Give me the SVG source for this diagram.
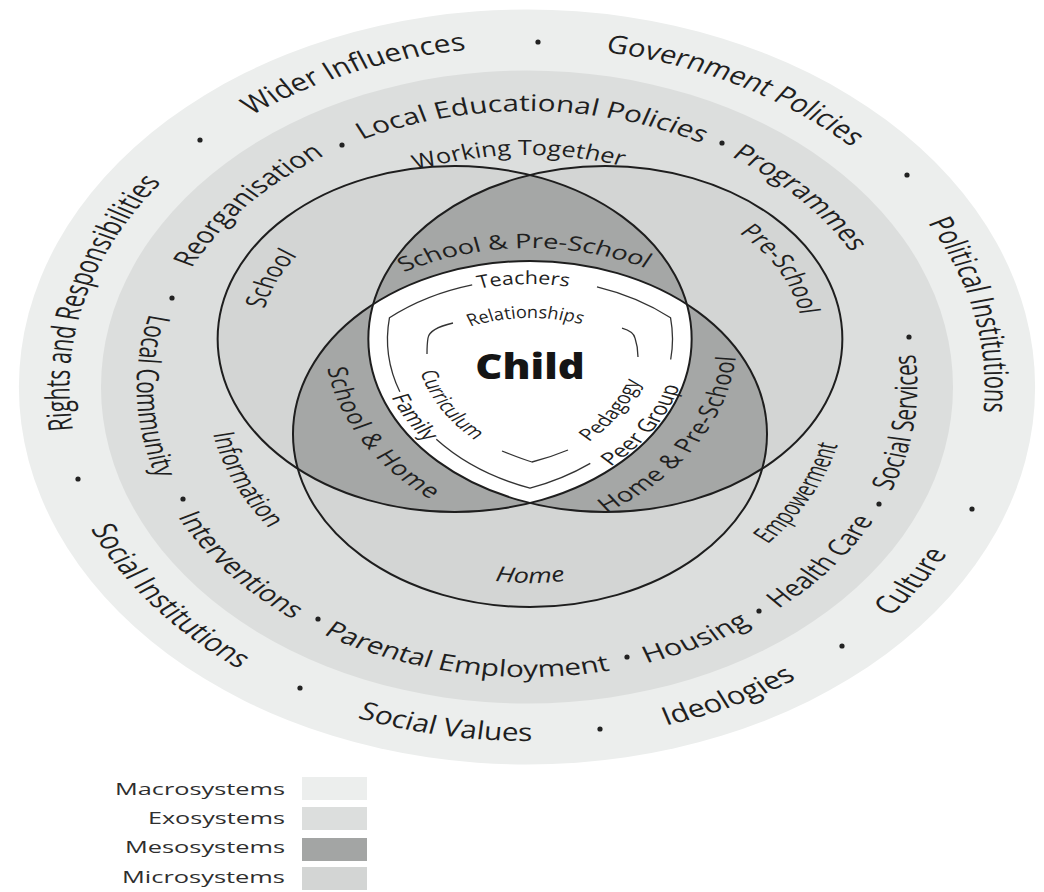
<svg xmlns="http://www.w3.org/2000/svg" width="1044" height="892" viewBox="0 0 1044 892">
<style>
.t{font-family:"Open Sans","Noto Sans","DejaVu Sans",sans-serif;fill:#1f1f1f;text-anchor:middle;font-weight:500}
.mac{font-size:25px}
.exo{font-size:23px}
.exi{font-size:21px}
.exs{font-size:22px}
.mic{font-size:21px}
.mes{font-size:20px}
.inn{font-size:17px}
.child{font-size:35px;font-weight:800;fill:#151515}
.leg{font-size:17px;text-anchor:start;fill:#2e2e2e}
.vc{fill:none;stroke:#1e1e1e;stroke-width:2;vector-effect:non-scaling-stroke}
.br{fill:none;stroke:#333;stroke-width:1.3;vector-effect:non-scaling-stroke}
.br2{fill:none;stroke:#333;stroke-width:1.3}
.dot{fill:#222}
.micro{fill:#d3d5d4}
.meso{fill:#a5a7a6}
</style>
<defs>
<path id="rMcw" d="M0,340A340,340 0 1 1 0,-340A340,340 0 1 1 0,340"/>
<path id="rMccw" d="M0,-354A354,354 0 1 0 0,354A354,354 0 1 0 0,-354"/>
<path id="rEcw" d="M0,276A276,276 0 1 1 0,-276A276,276 0 1 1 0,276"/>
<path id="rEccw" d="M0,-290A290,290 0 1 0 0,290A290,290 0 1 0 0,-290"/>
<path id="rIcw" d="M0,232A232,232 0 1 1 0,-232A232,232 0 1 1 0,232"/>
<path id="rIccw" d="M0,-238A238,238 0 1 0 0,238A238,238 0 1 0 0,-238"/>
<path id="S142cw" d="M-55,94A142,142 0 1 1 -55,-190A142,142 0 1 1 -55,94"/>
<path id="P144cw" d="M55,96A144,144 0 1 1 55,-192A144,144 0 1 1 55,96"/>
<path id="H149ccw" d="M0,-102A149,149 0 1 0 0,196A149,149 0 1 0 0,-102"/>
<path id="H186cw" d="M0,233A186,186 0 1 1 0,-139A186,186 0 1 1 0,233"/>
<path id="P205ccw" d="M55,-253A205,205 0 1 0 55,157A205,205 0 1 0 55,-253"/>
<path id="S206ccw" d="M-55,-254A206,206 0 1 0 -55,158A206,206 0 1 0 -55,-254"/>
<path id="H150cw" d="M0,197A150,150 0 1 1 0,-103A150,150 0 1 1 0,197"/>
<path id="H116cw" d="M0,163A116,116 0 1 1 0,-69A116,116 0 1 1 0,163"/>
<path id="P139ccw" d="M55,-187A139,139 0 1 0 55,91A139,139 0 1 0 55,-187"/>
<path id="P166ccw" d="M55,-214.5A166.5,166.5 0 1 0 55,118.5A166.5,166.5 0 1 0 55,-214.5"/>
<path id="S142ccw" d="M-55,-190A142,142 0 1 0 -55,94A142,142 0 1 0 -55,-190"/>
<path id="S171ccw" d="M-55,-219A171,171 0 1 0 -55,123A171,171 0 1 0 -55,-219"/>
</defs>
<rect width="1044" height="892" fill="#ffffff"/>

<g id="macrosystem" transform="translate(527,387) scale(1.346,1)">
<circle r="377.5" fill="#eceeed"/>
<text class="t mac"><textPath href="#rMcw" startOffset="621.9" textLength="263" lengthAdjust="spacingAndGlyphs">Rights and Responsibilities</textPath></text>
<text class="t mac"><textPath href="#rMcw" startOffset="935.5" textLength="174" lengthAdjust="spacingAndGlyphs">Wider Influences</textPath></text>
<text class="t mac"><textPath href="#rMcw" startOffset="1230.7" textLength="209" lengthAdjust="spacingAndGlyphs">Government Policies</textPath></text>
<text class="t mac"><textPath href="#rMcw" startOffset="1528.6" textLength="197" lengthAdjust="spacingAndGlyphs">Political Institutions</textPath></text>
<text class="t mac"><textPath href="#rMccw" startOffset="1456" textLength="76" lengthAdjust="spacingAndGlyphs">Culture</textPath></text>
<text class="t mac"><textPath href="#rMccw" startOffset="1270.6" textLength="108" lengthAdjust="spacingAndGlyphs">Ideologies</textPath></text>
<text class="t mac"><textPath href="#rMccw" startOffset="1049.1" textLength="133" lengthAdjust="spacingAndGlyphs">Social Values</textPath></text>
<text class="t mac"><textPath href="#rMccw" startOffset="791.8" textLength="180" lengthAdjust="spacingAndGlyphs">Social Institutions</textPath></text>
</g>

<g id="exosystem" transform="translate(527,387) scale(1.346,1)">
<circle r="316.5" fill="#dcdedd"/>
<text class="t exo"><textPath href="#rEcw" startOffset="632" textLength="152" lengthAdjust="spacingAndGlyphs">Reorganisation</textPath></text>
<text class="t exo"><textPath href="#rEcw" startOffset="870.7" textLength="262" lengthAdjust="spacingAndGlyphs">Local Educational Policies</textPath></text>
<text class="t exo"><textPath href="#rEcw" startOffset="1093" textLength="132" lengthAdjust="spacingAndGlyphs">Programmes</textPath></text>
<text class="t exo"><textPath href="#rEccw" startOffset="1329.1" textLength="140" lengthAdjust="spacingAndGlyphs">Social Services</textPath></text>
<text class="t exo"><textPath href="#rEccw" startOffset="1170.7" textLength="114" lengthAdjust="spacingAndGlyphs">Health Care</textPath></text>
<text class="t exo"><textPath href="#rEccw" startOffset="1044.4" textLength="87" lengthAdjust="spacingAndGlyphs">Housing</textPath></text>
<text class="t exo"><textPath href="#rEccw" startOffset="862.2" textLength="222" lengthAdjust="spacingAndGlyphs">Parental Employment</textPath></text>
<text class="t exo"><textPath href="#rEccw" startOffset="657" textLength="135" lengthAdjust="spacingAndGlyphs">Interventions</textPath></text>
<text class="t exo"><textPath href="#rEccw" startOffset="464.9" textLength="167" lengthAdjust="spacingAndGlyphs">Local Community</textPath></text>
<text class="t exi"><textPath href="#rIcw" startOffset="722.4" textLength="156" lengthAdjust="spacingAndGlyphs">Working Together</textPath></text>
<text class="t exs"><textPath href="#rIccw" startOffset="472.9" textLength="104" lengthAdjust="spacingAndGlyphs">Information</textPath></text>
<text class="t exs"><textPath href="#rIccw" startOffset="1006" textLength="113" lengthAdjust="spacingAndGlyphs">Empowerment</textPath></text>
</g>

<g id="dots">
<circle class="dot" cx="200" cy="140" r="2.6"/>
<circle class="dot" cx="538" cy="42" r="2.6"/>
<circle class="dot" cx="907" cy="175" r="2.6"/>
<circle class="dot" cx="972" cy="509" r="2.6"/>
<circle class="dot" cx="842" cy="646" r="2.6"/>
<circle class="dot" cx="600" cy="729" r="2.6"/>
<circle class="dot" cx="300" cy="688" r="2.6"/>
<circle class="dot" cx="78" cy="479" r="2.6"/>
<circle class="dot" cx="342" cy="145" r="2.6"/>
<circle class="dot" cx="722" cy="143" r="2.6"/>
<circle class="dot" cx="909" cy="337" r="2.6"/>
<circle class="dot" cx="879" cy="504" r="2.6"/>
<circle class="dot" cx="759" cy="611" r="2.6"/>
<circle class="dot" cx="627" cy="657" r="2.6"/>
<circle class="dot" cx="318" cy="619" r="2.6"/>
<circle class="dot" cx="183" cy="499" r="2.6"/>
<circle class="dot" cx="172" cy="298" r="2.6"/>
</g>

<g id="venn" transform="translate(530,387) scale(1.37,1)">
<g id="microsystems">
<circle class="micro" cx="-55" cy="-48" r="173"/>
<circle class="micro" cx="55" cy="-48" r="173"/>
<circle class="micro" cx="0" cy="47" r="173"/>
</g>
<g id="mesosystems">
<path class="meso" d="M0,-212A173,173 0 0 1 0,116A173,173 0 0 1 0,-212Z"/>
<path class="meso" d="M114.4,-82.7A173,173 0 0 1 -169.4,81.7A173,173 0 0 1 114.4,-82.7Z"/>
<path class="meso" d="M-114.4,-82.7A173,173 0 0 0 169.4,81.7A173,173 0 0 0 -114.4,-82.7Z"/>
</g>
<path id="child-area" fill="#ffffff" d="M-114.4,-82.7A173,173 0 0 1 114.4,-82.7A173,173 0 0 1 0,116A173,173 0 0 1 -114.4,-82.7Z"/>
<g id="circle-school"><circle class="vc" cx="-55" cy="-48" r="173"/>
<text class="t mic"><textPath href="#S142cw" startOffset="282.9" textLength="59" lengthAdjust="spacingAndGlyphs">School</textPath></text></g>
<g id="circle-preschool"><circle class="vc" cx="55" cy="-48" r="173"/>
<text class="t mic"><textPath href="#P144cw" startOffset="606.5" textLength="95" lengthAdjust="spacingAndGlyphs">Pre-School</textPath></text></g>
<g id="circle-home"><circle class="vc" cx="0" cy="47" r="173"/>
<text class="t mic" style="font-style:italic"><textPath href="#H149ccw" startOffset="468.1" textLength="52" lengthAdjust="spacingAndGlyphs">Home</textPath></text></g>
<g id="meso-labels">
<text class="t mes"><textPath href="#H186cw" startOffset="579.8" textLength="184" lengthAdjust="spacing">School &amp; Pre-School</textPath></text>
<text class="t mes"><textPath href="#P205ccw" startOffset="428.6" textLength="155" lengthAdjust="spacing">School &amp; Home</textPath></text>
<text class="t mes"><textPath href="#S206ccw" startOffset="857.9" textLength="189" lengthAdjust="spacing">Home &amp; Pre-School</textPath></text>
</g>
<g id="child">
<text class="t child" x="0" y="-8" textLength="80" lengthAdjust="spacingAndGlyphs">Child</text>
<text class="t inn" style="font-size:18px"><textPath href="#H150cw" startOffset="466.5" textLength="66" lengthAdjust="spacingAndGlyphs">Teachers</textPath></text>
<text class="t inn"><textPath href="#H116cw" startOffset="360.8" textLength="83" lengthAdjust="spacingAndGlyphs">Relationships</textPath></text>
<text class="t inn"><textPath href="#P139ccw" startOffset="291.6" textLength="80" lengthAdjust="spacingAndGlyphs">Curriculum</textPath></text>
<text class="t inn" style="font-size:18px"><textPath href="#P166ccw" startOffset="346.5" textLength="52" lengthAdjust="spacingAndGlyphs">Family</textPath></text>
<text class="t inn"><textPath href="#S142ccw" startOffset="589.9" textLength="72" lengthAdjust="spacingAndGlyphs">Pedagogy</textPath></text>
<text class="t inn" style="font-size:18px"><textPath href="#S171ccw" startOffset="709.3" textLength="96" lengthAdjust="spacingAndGlyphs">Peer Group</textPath></text>
</g>
<g id="brackets-outer">
<path class="br" d="M-42.2,-102.1A155,155 0 0 0 -102.6,-69.2A159,159 0 0 0 -95,4.8"/>
<path class="br" d="M-68.4,52.3A159,159 0 0 0 0,101.2A159,159 0 0 0 44,76.4"/>
<path class="br" d="M102.7,-27.5A159,159 0 0 0 102.6,-69.2A155,155 0 0 0 48.9,-100.1"/>
</g>
</g>
<g id="brackets-inner">
<path class="br2" d="M453,323C440,326 429,331 428,338C427,344 427,349 427,354"/>
<path class="br2" d="M622,328C629,330 634,333 635,338C637,344 638,350 638,357"/>
<path class="br2" d="M502,451C512,455 522,459 532,462C544,459 556,455 568,450"/>
</g>

<g id="legend">
<text class="t leg" x="115" y="795" textLength="170" lengthAdjust="spacingAndGlyphs">Macrosystems</text>
<rect x="302" y="777" width="65" height="23" fill="#eceeed"/>
<text class="t leg" x="148" y="824" textLength="137" lengthAdjust="spacingAndGlyphs">Exosystems</text>
<rect x="302" y="807" width="65" height="23" fill="#dcdedd"/>
<text class="t leg" x="125" y="853" textLength="160" lengthAdjust="spacingAndGlyphs">Mesosystems</text>
<rect x="302" y="838" width="65" height="23" fill="#a3a5a4"/>
<text class="t leg" x="122" y="883" textLength="163" lengthAdjust="spacingAndGlyphs">Microsystems</text>
<rect x="302" y="867" width="65" height="23" fill="#d3d5d4"/>
</g>
</svg>
